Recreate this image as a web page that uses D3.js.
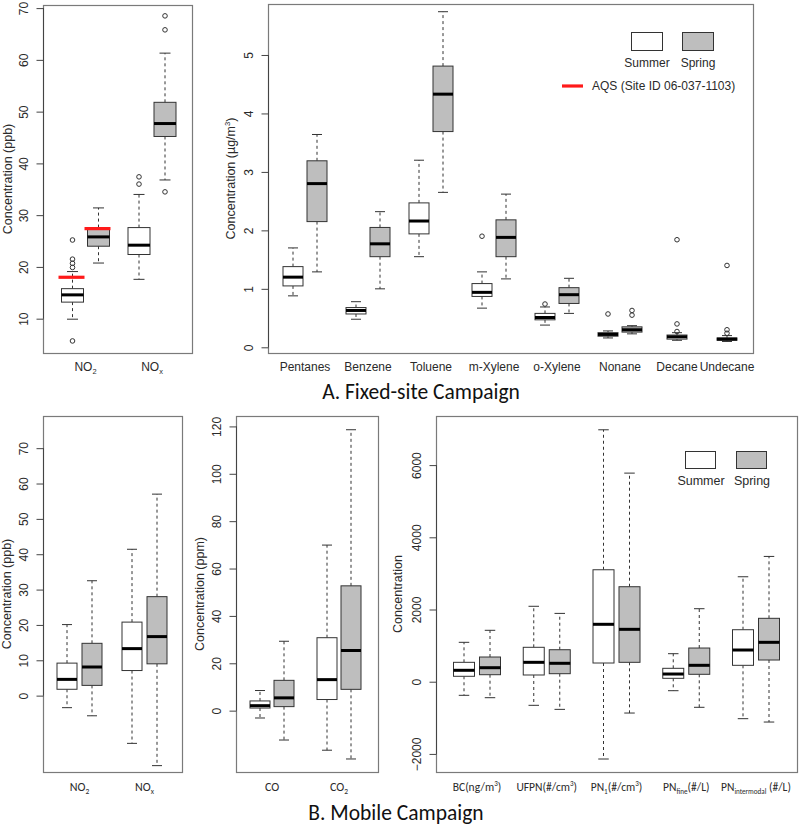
<!DOCTYPE html>
<html><head><meta charset="utf-8">
<script src="https://cdn.jsdelivr.net/npm/d3@7"></script>
<style>body{margin:0;background:#fff} svg{display:block}</style>
</head><body>
<svg id="c" width="800" height="825"></svg>
<script>
// ---------------- DATA ----------------
// each box: [lower whisker, Q1, median, Q3, upper whisker]
const seasons = ["Summer", "Spring"];

// A. Fixed-site: NO2 / NOx (ppb)
const fixedGasCats = ["NO_{2}", "NO_{x}"];
const fixedGasSummer = [[9.9, 13.2, 14.6, 15.8, 19.1], [17.6, 22.4, 24.2, 27.6, 34.0]];
const fixedGasSpring = [[20.75, 24.0, 25.8, 27.6, 31.4], [36.8, 45.2, 47.7, 51.8, 61.3]];
const fixedGasSummerOut = [[5.7, 19.9, 20.7, 21.5, 25.2], [36.0, 37.4]];
const fixedGasSpringOut = [[], [34.5, 65.8, 68.5]];
const aqsNO2 = [18.0, 27.4]; // AQS values: summer, spring
const fixedGasTicks = [10, 20, 30, 40, 50, 60, 70];

// A. Fixed-site: VOCs (ug/m3)
const vocCats = ["Pentanes", "Benzene", "Toluene", "m-Xylene", "o-Xylene", "Nonane", "Decane", "Undecane"];
const vocSummer = [
  [0.88, 1.05, 1.20, 1.38, 1.70],
  [0.48, 0.57, 0.63, 0.68, 0.78],
  [1.55, 1.94, 2.16, 2.47, 3.20],
  [0.67, 0.87, 0.94, 1.09, 1.29],
  [0.38, 0.47, 0.51, 0.58, 0.69],
  [0.16, 0.19, 0.22, 0.25, 0.28],
  [0.12, 0.14, 0.18, 0.21, 0.25],
  [0.10, 0.12, 0.14, 0.16, 0.20]
];
const vocSpring = [
  [1.29, 2.15, 2.80, 3.19, 3.64],
  [1.00, 1.55, 1.77, 2.05, 2.32],
  [2.65, 3.69, 4.33, 4.81, 5.74],
  [1.17, 1.55, 1.88, 2.18, 2.62],
  [0.58, 0.75, 0.90, 1.02, 1.18],
  [0.23, 0.26, 0.30, 0.35, 0.37],
  null,
  null
];
const vocSummerOut = [[], [], [], [1.90], [0.74], [0.57], [0.27, 0.40, 1.84], [0.24, 0.30, 1.40]];
const vocSpringOut = [[], [], [], [], [], [0.55, 0.63], [], []];
const vocTicks = [0, 1, 2, 3, 4, 5];

// B. Mobile: NO2 / NOx (ppb)
const mobGasCats = ["NO_{2}", "NO_{x}"];
const mobGasSummer = [[-3.4, 1.8, 4.6, 9.2, 20.1], [-13.5, 7.1, 13.3, 20.8, 41.4]];
const mobGasSpring = [[-5.7, 2.9, 8.1, 14.8, 32.5], [-19.8, 9.0, 16.7, 28.0, 57.0]];
const mobGasTicks = [0, 10, 20, 30, 40, 50, 60, 70];

// B. Mobile: CO / CO2 (ppm)
const mobCoCats = ["CO", "CO_{2}"];
const mobCoSummer = [[-3.1, 1.1, 2.1, 4.1, 8.5], [-16.7, 4.7, 13.1, 30.8, 69.9]];
const mobCoSpring = [[-12.4, 1.7, 5.4, 12.8, 29.3], [-20.4, 9.0, 25.4, 52.7, 118.6]];
const mobCoTicks = [0, 20, 40, 60, 80, 100, 120];

// B. Mobile: particles
const mobPmCats = ["BC(ng/m^{3})", "UFPN(#/cm^{3})", "PN_{1}(#/cm^{3})", "PN_{fine}(#/L)", "PN_{intermodal} (#/L)"];
const mobPmSummer = [
  [-377, 150, 316, 537, 1091],
  [-654, 186, 537, 953, 2089],
  [-2141, 518, 1590, 3101, 6978],
  [-249, 94, 213, 371, 776],
  [-1024, 454, 878, 1440, 2907]
];
const mobPmSpring = [
  [-443, 194, 388, 684, 1424],
  [-766, 222, 510, 886, 1892],
  [-868, 537, 1451, 2631, 5778],
  [-709, 205, 454, 933, 2022],
  [-1117, 601, 1091, 1756, 3470]
];
const mobPmTicks = [-2000, 0, 2000, 4000, 6000];

// ---------------- DRAWING ----------------
const svg = d3.select("#c");
const AR = "'Liberation Sans', Arial, sans-serif";
const CAL = "Carlito, Lato, 'Open Sans', sans-serif";
const fills = ["#ffffff", "#bebebe"];
const ink = "#2a2a2a";

function rich(sel, str, size) {
  const re = /([_^])\{([^}]*)\}/g;
  let last = 0, m, shift = 0;
  function add(t, mode) {
    const ts = sel.append("tspan").text(t);
    const target = mode === 1 ? size * 0.28 : mode === -1 ? -size * 0.38 : 0;
    if (target - shift !== 0) ts.attr("dy", target - shift);
    shift = target;
    if (mode) ts.attr("font-size", size * 0.62);
  }
  while ((m = re.exec(str))) {
    if (m.index > last) add(str.slice(last, m.index), 0);
    add(m[2], m[1] === "_" ? 1 : -1);
    last = re.lastIndex;
  }
  if (last < str.length) add(str.slice(last), 0);
}

function panel(o) {
  const g = svg.append("g");
  const y = d3.scaleLinear().domain(o.yDomain).range([o.bottom, o.top]);
  const x = o.x;

  // frame
  g.append("rect").attr("x", o.left + 0.5).attr("y", o.top + 0.5)
    .attr("width", o.right - o.left).attr("height", o.bottom - o.top)
    .attr("fill", "none").attr("stroke", "#7a7a7a").attr("stroke-width", 1.2);

  // y axis (R style: line between first and last tick, rotated labels)
  const ax = g.append("g").attr("transform", `translate(${o.left + 0.5},0)`)
    .call(d3.axisLeft(y).tickValues(o.ticks).tickSize(7).tickFormat(d3.format("d")));
  ax.select(".domain").remove();
  ax.selectAll(".tick line").attr("stroke", "#444");
  ax.selectAll(".tick text")
    .attr("x", null).attr("dy", null)
    .attr("transform", "translate(-16,0) rotate(-90)")
    .attr("text-anchor", "middle")
    .attr("fill", ink)
    .style("font-family", AR).style("font-size", "12px");
  ax.append("line").attr("y1", y(o.ticks[0])).attr("y2", y(o.ticks[o.ticks.length - 1]))
    .attr("stroke", "#444");

  // y title
  const yt = g.append("text")
    .attr("transform", `translate(${o.ytX},${(o.top + o.bottom) / 2}) rotate(-90)`)
    .attr("text-anchor", "middle").attr("fill", ink)
    .style("font-family", AR).style("font-size", "12.5px");
  rich(yt, o.yTitle, 12.5);

  // boxes
  o.cats.forEach((c, i) => {
    const series = [o.summer[i], o.spring[i]];
    const outs = [o.summerOut ? o.summerOut[i] : [], o.springOut ? o.springOut[i] : []];
    const both = series[0] && series[1];
    series.forEach((st, s) => {
      if (!st) return;
      const cx = x(i) + (both ? (s === 0 ? -o.off : o.off) : 0);
      const w = o.bw;
      const [lo, q1, md, q3, hi] = st;
      const bg = g.append("g");
      // whiskers
      [[q3, hi], [q1, lo]].forEach(([a, b]) => {
        bg.append("line").attr("x1", cx).attr("x2", cx).attr("y1", y(a)).attr("y2", y(b))
          .attr("stroke", "#333").attr("stroke-dasharray", "3,3");
        bg.append("line").attr("x1", cx - w / 4).attr("x2", cx + w / 4).attr("y1", y(b)).attr("y2", y(b))
          .attr("stroke", "#333");
      });
      bg.append("rect").attr("x", cx - w / 2).attr("y", y(q3)).attr("width", w)
        .attr("height", Math.max(0.5, y(q1) - y(q3)))
        .attr("fill", fills[s]).attr("stroke", "#333").attr("stroke-width", 1);
      bg.append("line").attr("x1", cx - w / 2).attr("x2", cx + w / 2).attr("y1", y(md)).attr("y2", y(md))
        .attr("stroke", "#000").attr("stroke-width", 3);
      (outs[s] || []).forEach(v => {
        bg.append("circle").attr("cx", cx).attr("cy", y(v)).attr("r", 2.3)
          .attr("fill", "none").attr("stroke", "#333").attr("stroke-width", 1);
      });
    });
    // category label
    const t = g.append("text").attr("x", x(i)).attr("y", o.labY)
      .attr("text-anchor", "middle").attr("fill", ink)
      .style("font-family", o.labFont).style("font-size", o.labSize + "px");
    rich(t, c, o.labSize);
  });
  return { g, y, x };
}

// Panel A1
const pA1 = panel({
  left: 43, right: 192, top: 5, bottom: 353,
  yDomain: [3.37, 70.6], ticks: fixedGasTicks,
  x: (() => { const s = d3.scalePoint().domain(d3.range(fixedGasCats.length)).range([85.5, 152]); return i => s(i); })(),
  cats: fixedGasCats, summer: fixedGasSummer, spring: fixedGasSpring,
  summerOut: fixedGasSummerOut, springOut: fixedGasSpringOut,
  off: 13, bw: 22, labY: 371, labFont: AR, labSize: 12,
  yTitle: "Concentration (ppb)", ytX: 12
});
// AQS red lines
aqsNO2.forEach((v, s) => {
  const cx = pA1.x(0) + (s === 0 ? -13 : 13);
  pA1.g.append("line").attr("x1", cx - 14).attr("x2", cx + 12).attr("y1", pA1.y(v)).attr("y2", pA1.y(v))
    .attr("stroke", "#ff1a1a").attr("stroke-width", 3.2);
});

// Panel A2
const vocX = d3.scaleLinear().domain([0, 5, 6, 7]).range([305, 620, 677, 727]);
const pA2 = panel({
  left: 268, right: 753, top: 4, bottom: 353,
  yDomain: [-0.0975, 5.872], ticks: vocTicks,
  x: i => vocX(i),
  cats: vocCats, summer: vocSummer, spring: vocSpring,
  summerOut: vocSummerOut, springOut: vocSpringOut,
  off: 12, bw: 20, labY: 370.5, labFont: AR, labSize: 12,
  yTitle: "Concentration (µg/m^{3})", ytX: 235
});
// legend A
const legA = pA2.g.append("g");
seasons.forEach((s, k) => {
  const lx = 631 + k * 51;
  legA.append("rect").attr("x", lx + 0.5).attr("y", 32.5).attr("width", 31).attr("height", 18)
    .attr("fill", fills[k]).attr("stroke", "#333");
  legA.append("text").attr("x", lx + 16).attr("y", 66.5).attr("text-anchor", "middle")
    .attr("fill", ink).style("font-family", AR).style("font-size", "12px").text(s);
});
legA.append("line").attr("x1", 562).attr("x2", 583).attr("y1", 86).attr("y2", 86)
  .attr("stroke", "#ff1a1a").attr("stroke-width", 3.2);
legA.append("text").attr("x", 592).attr("y", 90).attr("fill", ink)
  .style("font-family", AR).style("font-size", "12px").text("AQS (Site ID 06-037-1103)");

// Panel B1
panel({
  left: 43, right: 182, top: 416, bottom: 772,
  yDomain: [-21.6, 79.1], ticks: mobGasTicks,
  x: (() => { const s = d3.scalePoint().domain(d3.range(2)).range([79.5, 144.5]); return i => s(i); })(),
  cats: mobGasCats, summer: mobGasSummer, spring: mobGasSpring,
  off: 12.5, bw: 20, labY: 790.5, labFont: CAL, labSize: 12,
  yTitle: "Concentration (ppb)", ytX: 11
});

// Panel B2
panel({
  left: 236, right: 378, top: 416, bottom: 772,
  yDomain: [-25.9, 124.4], ticks: mobCoTicks,
  x: (() => { const s = d3.scalePoint().domain(d3.range(2)).range([272, 339]); return i => s(i); })(),
  cats: mobCoCats, summer: mobCoSummer, spring: mobCoSpring,
  off: 12, bw: 20, labY: 790.5, labFont: CAL, labSize: 12,
  yTitle: "Concentration (ppm)", ytX: 204
});

// Panel B3
const pB3 = panel({
  left: 436, right: 797, top: 416, bottom: 772,
  yDomain: [-2501, 7360], ticks: mobPmTicks,
  x: (() => { const s = d3.scalePoint().domain(d3.range(mobPmCats.length)).range([477, 756]); return i => s(i); })(),
  cats: mobPmCats, summer: mobPmSummer, spring: mobPmSpring,
  off: 13, bw: 21, labY: 790.5, labFont: CAL, labSize: 11.5,
  yTitle: "Concentration", ytX: 402
});
const legB = pB3.g.append("g");
seasons.forEach((s, k) => {
  const lx = 685 + k * 51;
  legB.append("rect").attr("x", lx + 0.5).attr("y", 451.5).attr("width", 30).attr("height", 17)
    .attr("fill", fills[k]).attr("stroke", "#333");
  legB.append("text").attr("x", lx + 16).attr("y", 485).attr("text-anchor", "middle")
    .attr("fill", ink).style("font-family", AR).style("font-size", "12.5px").text(s);
});

// Titles
svg.append("text").attr("x", 421).attr("y", 398.5).attr("text-anchor", "middle").attr("fill", "#111")
  .style("font-family", CAL).style("font-size", "21.5px").text("A. Fixed-site Campaign");
svg.append("text").attr("x", 396).attr("y", 820).attr("text-anchor", "middle").attr("fill", "#111")
  .style("font-family", CAL).style("font-size", "21.5px").text("B. Mobile Campaign");
</script>
</body></html>
